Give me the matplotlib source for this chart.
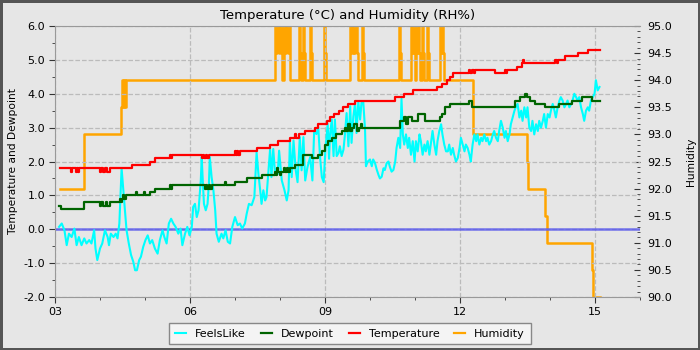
import matplotlib
matplotlib.use("Agg")
import matplotlib.pyplot as plt
from matplotlib.ticker import MultipleLocator, FixedLocator, FuncFormatter

# hours of the day (decimal) and readings
feels_hours = [3.09, 3.15, 3.21, 3.26, 3.31, 3.37, 3.43, 3.48, 3.53, 3.59, 3.65, 3.70, 3.76, 3.81,
               3.87, 3.90, 3.94, 4.00, 4.05, 4.11, 4.17, 4.20, 4.24, 4.30, 4.35, 4.39, 4.43, 4.46,
               4.48, 4.52, 4.56, 4.59, 4.64, 4.69, 4.74, 4.78, 4.82, 4.87, 4.91, 4.96, 5.01, 5.06,
               5.11, 5.16, 5.22, 5.28, 5.33, 5.39, 5.43, 5.48, 5.53, 5.58, 5.63, 5.68, 5.74, 5.79,
               5.83, 5.89, 5.94, 5.99, 6.04, 6.07, 6.11, 6.15, 6.19, 6.24, 6.26, 6.28, 6.31, 6.35,
               6.39, 6.42, 6.44, 6.48, 6.52, 6.56, 6.59, 6.64, 6.70, 6.74, 6.79, 6.84, 6.89, 6.94,
               7.00, 7.06, 7.11, 7.16, 7.22, 7.26, 7.31, 7.37, 7.43, 7.46, 7.48, 7.52, 7.56, 7.59,
               7.63, 7.67, 7.70, 7.74, 7.78, 7.81, 7.85, 7.89, 7.95, 7.98, 8.04, 8.10, 8.15, 8.19,
               8.22, 8.26, 8.30, 8.35, 8.39, 8.44, 8.48, 8.52, 8.56, 8.61, 8.67, 8.72, 8.76, 8.81,
               8.85, 8.89, 8.93, 8.97, 9.01, 9.06, 9.09,
               9.11, 9.15, 9.19, 9.22, 9.26, 9.30, 9.33, 9.37, 9.41, 9.44, 9.48, 9.52, 9.56, 9.59,
               9.63, 9.67, 9.70, 9.74, 9.78, 9.81, 9.85, 9.89, 9.91, 9.95, 10.00, 10.04, 10.07, 10.11,
               10.15, 10.19, 10.22, 10.26, 10.30, 10.33, 10.37, 10.41, 10.44, 10.48, 10.52, 10.56,
               10.59, 10.63, 10.67, 10.70, 10.73, 10.76, 10.80, 10.84, 10.87, 10.91, 10.95, 10.99,
               11.02, 11.06, 11.10, 11.13, 11.17, 11.21, 11.24, 11.28, 11.32, 11.36, 11.39, 11.43,
               11.47, 11.50, 11.54, 11.58, 11.61, 11.65, 11.69, 11.73, 11.76, 11.80, 11.84, 11.87,
               11.91, 11.95, 11.99, 12.02, 12.06, 12.10, 12.13, 12.17, 12.21, 12.24, 12.28, 12.32,
               12.36, 12.39, 12.43, 12.47, 12.50, 12.54, 12.58, 12.61, 12.65, 12.69, 12.73, 12.76,
               12.80, 12.84, 12.87, 12.91, 12.95, 12.99, 13.02, 13.06, 13.10, 13.13, 13.17, 13.21,
               13.24, 13.28, 13.32, 13.36, 13.39, 13.43, 13.47, 13.50, 13.54, 13.58, 13.61, 13.65,
               13.69, 13.73, 13.76, 13.80, 13.84, 13.87, 13.91, 13.95, 13.99, 14.02, 14.06, 14.10,
               14.13, 14.17, 14.21, 14.24, 14.28, 14.32, 14.36, 14.39, 14.43, 14.47, 14.50, 14.54,
               14.58, 14.61, 14.65, 14.69, 14.73, 14.76, 14.80, 14.84, 14.87, 14.91, 14.95, 14.99,
               15.02, 15.06, 15.10]
feels_like = [0.07, 0.17, -0.03, -0.47, -0.13, -0.23, 0.02, -0.47, -0.23, -0.47, -0.27, -0.42, -0.32, -0.42,
              -0.03, -0.57, -0.91, -0.57, -0.42, -0.03, -0.23, -0.47, -0.13, -0.23, -0.13, -0.27, 0.17, 1.15,
              1.80, 1.15, 0.46, -0.03, -0.42, -0.76, -0.96, -1.21, -1.21, -0.91, -0.81, -0.52, -0.32, -0.18,
              -0.42, -0.32, -0.57, -0.72, -0.32, -0.03, -0.23, -0.42, 0.17, 0.31, 0.17, 0.07, -0.13, 0.02,
              -0.47, -0.13, 0.07, -0.18, 0.07, 0.66, 0.75, 0.36, 0.56, 1.44, 2.13, 1.54, 0.75, 0.56,
              0.75, 1.34, 2.13, 1.54, 1.15, 0.56, -0.13, -0.37, -0.13, -0.27, -0.03, -0.37, -0.42, 0.07,
              0.36, 0.12, 0.17, 0.02, 0.17, 0.46, 0.75, 0.71, 0.95, 1.74, 2.27, 1.64, 1.15, 0.75,
              1.15, 0.85, 0.95, 1.64, 2.37, 1.54, 2.37, 1.64, 1.64, 2.32, 1.44, 1.15, 0.85, 1.15,
              2.62, 1.54, 2.62, 1.74, 1.39, 2.72, 1.74, 2.72, 1.44, 1.83, 2.13, 1.44, 2.91, 2.81,
              3.01, 2.13, 1.54, 1.39, 2.37, 3.11, 2.08,
              2.75, 3.24, 2.16, 3.24, 2.16, 2.25, 2.45, 2.16, 2.35, 2.75, 3.43, 2.45, 3.63, 2.55,
              3.33, 3.73, 2.84, 3.77, 3.24, 3.73, 3.77, 2.94, 1.86, 2.00, 2.06, 1.86, 2.06, 1.96,
              1.76, 1.60, 1.50, 1.55, 1.80, 1.75, 1.95, 2.00, 1.85, 1.70, 1.75, 2.00,
              2.40, 2.70, 2.40, 3.85, 2.80, 2.50, 2.80, 2.40, 2.70, 2.20, 2.60, 2.00,
              2.60, 2.30, 2.80, 2.60, 2.20, 2.50, 2.30, 2.60, 2.20, 2.60, 2.90, 2.50,
              2.20, 2.60, 2.90, 3.10, 2.80, 2.50, 2.30, 2.30, 2.50, 2.20, 2.40, 2.20,
              2.00, 2.10, 2.40, 2.70, 2.50, 2.30, 2.50, 2.40, 2.20, 2.00, 2.50, 2.80,
              2.60, 2.80, 2.50, 2.70, 2.60, 2.80, 2.60, 2.70, 2.50, 2.60, 2.80, 2.90,
              2.70, 2.60, 2.90, 3.20, 3.00, 2.70, 2.90, 2.60, 2.80, 3.10, 3.30, 3.50,
              3.60, 3.70, 3.30, 3.50, 3.20, 3.60, 3.30, 3.60, 3.00, 2.90, 3.20, 2.80,
              3.10, 2.90, 3.20, 3.00, 3.20, 3.40, 3.00, 3.40, 3.30, 3.50, 3.70, 3.50,
              3.30, 3.60, 3.80, 3.90, 3.80, 3.60, 3.70, 3.80, 3.60, 3.70, 3.80, 4.00,
              3.90, 3.80, 3.90, 3.60, 3.40, 3.20, 3.50, 3.60, 3.50, 3.80, 3.90, 4.00,
              4.40, 4.10, 4.20]

dew_hours = [3.09, 3.13, 3.65, 4.00, 4.03, 4.06, 4.13, 4.16, 4.22, 4.45, 4.47, 4.49, 4.52, 4.54, 4.57,
             4.80, 4.82, 4.98, 5.00, 5.10, 5.22, 5.56, 5.58, 5.61, 6.33, 6.35, 6.37, 6.42, 6.44, 6.48,
             6.78, 6.80, 7.00, 7.26, 7.59, 7.89, 7.91, 7.94, 7.96, 8.00, 8.02, 8.08, 8.10, 8.15, 8.18,
             8.22, 8.33, 8.52, 8.70, 8.85, 8.93, 9.00, 9.07, 9.15, 9.25, 9.37, 9.45, 9.47, 9.52, 9.55,
             9.60, 9.65, 9.70, 9.75, 9.80, 9.83, 10.67, 10.75, 10.80, 10.85, 10.93, 11.07, 11.22, 11.56,
             11.60, 11.67, 11.78, 12.19, 12.26, 13.22, 13.33, 13.44, 13.48, 13.56, 13.67, 13.89, 14.19,
             14.48, 14.70, 14.93, 15.11]
dewpoint = [0.7, 0.6, 0.8, 0.7, 0.8, 0.7, 0.8, 0.7, 0.8, 0.9, 0.8, 0.9, 1.0, 0.9, 1.0,
            1.1, 1.0, 1.1, 1.0, 1.1, 1.2, 1.3, 1.2, 1.3, 1.2, 1.3, 1.2, 1.3, 1.2, 1.3,
            1.4, 1.3, 1.4, 1.5, 1.6, 1.7, 1.6, 1.8, 1.7, 1.6, 1.7, 1.8, 1.7, 1.8, 1.7,
            1.8, 1.9, 2.2, 2.1, 2.2, 2.3, 2.5, 2.6, 2.7, 2.8, 2.9, 3.0, 2.9, 3.1, 2.9,
            3.0, 3.1, 2.9, 3.0, 3.1, 3.0, 3.2, 3.3, 3.1, 3.3, 3.2, 3.4, 3.2, 3.3,
            3.4, 3.6, 3.7, 3.8, 3.6, 3.8, 3.9, 4.0, 3.9, 3.8, 3.7, 3.6, 3.7,
            3.8, 3.9, 3.8, 3.8]

temp_hours = [3.10, 3.35, 3.38, 3.47, 3.49, 3.51, 3.53, 4.00, 4.03, 4.06, 4.12, 4.15, 4.22,
              4.70, 5.11, 5.22, 5.56, 5.58, 5.61, 6.26, 6.28, 6.31, 6.36, 6.38, 6.42,
              7.00, 7.02, 7.04, 7.06, 7.11, 7.48, 7.78, 7.96, 8.22, 8.34, 8.36, 8.42,
              8.56, 8.78, 8.85, 9.04, 9.11, 9.20, 9.30, 9.40, 9.52, 9.66, 10.56, 10.75, 10.96,
              11.48, 11.59, 11.70, 11.78, 11.85, 12.19, 12.22, 12.26, 12.30, 12.33, 12.78, 13.00,
              13.02, 13.04, 13.26, 13.37, 13.40, 13.43, 14.11, 14.15, 14.18, 14.33, 14.63, 14.85, 15.11]
temperature = [1.8, 1.7, 1.8, 1.7, 1.8, 1.7, 1.8, 1.7, 1.8, 1.7, 1.8, 1.7, 1.8,
               1.9, 2.0, 2.1, 2.2, 2.1, 2.2, 2.1, 2.2, 2.1, 2.2, 2.1, 2.2,
               2.3, 2.2, 2.3, 2.2, 2.3, 2.4, 2.5, 2.6, 2.7, 2.8, 2.7, 2.8,
               2.9, 3.0, 3.1, 3.2, 3.3, 3.4, 3.5, 3.6, 3.7, 3.8, 3.9, 4.0, 4.1,
               4.2, 4.3, 4.4, 4.5, 4.6, 4.7, 4.6, 4.7, 4.6, 4.7, 4.6, 4.7,
               4.6, 4.7, 4.8, 4.9, 5.0, 4.9, 5.0, 4.9, 5.0, 5.1, 5.2, 5.3, 5.3]

hum_hours = [3.10, 3.64, 4.47, 4.49, 4.51, 4.53, 4.55, 4.58,
             7.89, 7.92, 7.94, 7.98, 8.00, 8.04, 8.09, 8.11, 8.13, 8.17, 8.19, 8.22,
             8.42, 8.45, 8.47, 8.51, 8.53, 8.56, 8.67, 8.69, 8.71, 8.98, 9.00, 9.02,
             9.56, 9.58, 9.62, 9.65, 9.67, 9.70, 9.73, 9.82, 9.84, 9.87,
             10.64, 10.67, 10.69, 10.91, 10.93, 10.96, 10.98, 11.00, 11.02, 11.04, 11.07, 11.09,
             11.11, 11.16, 11.18, 11.20, 11.27, 11.29, 11.31, 11.56, 11.58, 11.60, 11.62, 11.64,
             12.28, 13.48, 13.51, 13.89, 13.93, 14.93, 14.96, 15.10]
humidity = [92.0, 93.0, 93.5, 94.0, 93.5, 94.0, 93.5, 94.0,
            95.0, 94.5, 95.0, 94.5, 95.0, 94.0, 95.0, 94.5, 95.0, 94.5, 95.0, 94.0,
            95.0, 94.5, 94.0, 95.0, 94.5, 94.0, 95.0, 94.5, 94.0, 95.0, 94.5, 94.0,
            95.0, 94.5, 95.0, 94.5, 95.0, 94.5, 94.0, 95.0, 94.5, 94.0,
            95.0, 94.5, 94.0, 95.0, 94.5, 95.0, 94.5, 94.0, 95.0, 94.5, 95.0, 94.5,
            94.0, 95.0, 94.5, 94.0, 95.0, 94.5, 94.0, 95.0, 94.5, 95.0, 94.5, 94.0,
            93.0, 92.5, 92.0, 91.5, 91.0, 90.5, 90.0, 90.0]

hour_ticks = [3, 6, 9, 12, 15]

bg = '#e6e6e6'
fig = plt.figure(figsize=(7, 3.5), dpi=100)
fig.patch.set_facecolor(bg)
fig.patch.set_edgecolor('#555555')
fig.patch.set_linewidth(3.5)

ax = fig.add_axes([55 / 700, 53 / 350, 585 / 700, 271 / 350])
ax2 = ax.twinx()
# temperatures on top of the humidity trace
ax.set_zorder(ax2.get_zorder() + 1)
ax.patch.set_visible(False)
ax2.patch.set_facecolor(bg)

ax2.plot(hum_hours, humidity, color='#ffa500', lw=1.8, drawstyle='steps-post', label='Humidity')
ax.axhline(0, color='#5555ee', lw=1.8, alpha=0.8)
l1, = ax.plot(feels_hours, feels_like, color='#00ffff', lw=1.5, label='FeelsLike')
l2, = ax.plot(dew_hours, dewpoint, color='#006400', lw=1.6, drawstyle='steps-post', label='Dewpoint')
l3, = ax.plot(temp_hours, temperature, color='#ff0000', lw=1.6, drawstyle='steps-post', label='Temperature')
l4, = ax.plot([], [], color='#ffa500', lw=1.6, label='Humidity')

ax.set_xlim(3, 16)
ax.set_ylim(-2, 6)
ax2.set_ylim(90, 95)

ax.xaxis.set_major_locator(FixedLocator(hour_ticks))
ax.xaxis.set_minor_locator(MultipleLocator(1))
ax.xaxis.set_major_formatter(FuncFormatter(lambda v, p: '%02d' % v))
ax.yaxis.set_major_locator(MultipleLocator(1))
ax.yaxis.set_minor_locator(MultipleLocator(0.5))
ax.yaxis.set_major_formatter(FuncFormatter(lambda v, p: '%.1f' % v))
ax2.yaxis.set_major_locator(MultipleLocator(0.5))
ax2.yaxis.set_minor_locator(MultipleLocator(0.1))
ax2.yaxis.set_major_formatter(FuncFormatter(lambda v, p: '%.1f' % v))

ax.grid(True, which='major', color='#bbbbbb', ls='--', lw=0.9)
ax.tick_params(which='major', length=4, labelsize=8, color='#333333', pad=3)
ax.tick_params(which='minor', length=2.5, color='#333333')
ax2.tick_params(which='major', direction='in', length=4, labelsize=8, color='#333333', pad=5)
ax2.tick_params(which='minor', direction='in', length=2.5, color='#333333')

for s in ['left', 'bottom', 'top']:
    ax.spines[s].set_color('#999999')
ax.spines['right'].set_visible(False)
for s in ax2.spines.values():
    s.set_visible(False)

ax.set_title('Temperature (\u00b0C) and Humidity (RH%)', fontsize=9.5, pad=5)
ax.set_ylabel('Temperature and Dewpoint', fontsize=7.7, labelpad=4)
ax2.set_ylabel('Humidity', fontsize=7.7, labelpad=10)

leg = fig.legend(handles=[l1, l2, l3, l4], loc='lower center', bbox_to_anchor=(0.5, 0.0),
                 ncol=4, fontsize=8, frameon=True, fancybox=False, handlelength=1.0,
                 handletextpad=0.8, columnspacing=1.35, borderpad=0.5)
leg.get_frame().set_facecolor('#f4f4f4')
leg.get_frame().set_edgecolor('#888888')
leg.get_frame().set_alpha(1)

fig.savefig('out.png', dpi=100)
